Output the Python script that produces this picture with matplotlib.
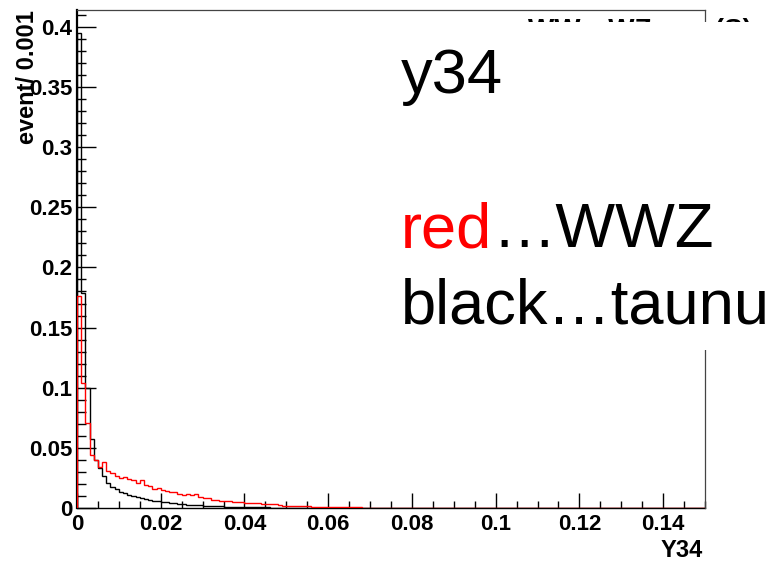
import matplotlib
matplotlib.use("Agg")
import matplotlib.pyplot as plt
import numpy as np
from matplotlib.patches import Rectangle
from matplotlib.ticker import MultipleLocator, FuncFormatter

# ---------------- data ----------------
bin_width = 0.001
x_min, x_max = 0.0, 0.15

# black ... taunu (per 0.001 bin)
taunu = [0.395, 0.179, 0.100, 0.057, 0.040, 0.033, 0.0266, 0.021, 0.0178, 0.0158,
         0.0136, 0.0122, 0.0110, 0.0100, 0.0090, 0.0080, 0.0072, 0.0066, 0.0060, 0.0055,
         0.0050, 0.0046, 0.0042, 0.0038, 0.0035, 0.0032, 0.0029, 0.0026, 0.0024, 0.0022,
         0.0020, 0.0018, 0.0017, 0.0015, 0.0014, 0.0012, 0.0011, 0.0010, 0.0009, 0.0009,
         0.0008, 0.0007, 0.0006, 0.0006, 0.0005, 0.0005, 0.0004, 0.0004, 0.0003, 0.0003,
         0.0003, 0.0002, 0.0002, 0.0002, 0.0002, 0.0001, 0.0001, 0.0001, 0.0001, 0.0001,
         0.0001, 0.0001, 0.0, 0.0001, 0.0, 0.0, 0.0001, 0.0, 0.0, 0.0]
# red ... WWZ
wwz = [0.176, 0.104, 0.071, 0.044, 0.040, 0.034, 0.038, 0.031, 0.029, 0.027,
       0.025, 0.026, 0.024, 0.023, 0.021, 0.023, 0.019, 0.018, 0.016, 0.017,
       0.015, 0.014, 0.013, 0.013, 0.012, 0.011, 0.012, 0.011, 0.012, 0.009,
       0.0085, 0.008, 0.0065, 0.0065, 0.006, 0.0062, 0.0055, 0.0052, 0.005, 0.0048,
       0.0045, 0.0042, 0.004, 0.0038, 0.0035, 0.0034, 0.0032, 0.003, 0.0025, 0.002,
       0.0018, 0.0017, 0.0016, 0.0015, 0.0014, 0.0013, 0.0012, 0.0011, 0.001, 0.0009,
       0.0009, 0.0008, 0.0007, 0.0007, 0.0006, 0.0006, 0.0005, 0.0005, 0.0004, 0.0004,
       0.0004, 0.0003, 0.0003, 0.0003, 0.0003, 0.0002, 0.0002, 0.0002, 0.0002, 0.0002,
       0.0001, 0.0001, 0.0001, 0.0001, 0.0001, 0.0001, 0.0, 0.0001, 0.0, 0.0]

n_bins = 150
taunu_full = np.zeros(n_bins)
taunu_full[:len(taunu)] = taunu
wwz_full = np.zeros(n_bins)
wwz_full[:len(wwz)] = wwz
edges = np.linspace(x_min, x_max, n_bins + 1)

title_text = "WW\u2192WZ\u2192\u03c4\u03bd (S)"
x_title = "Y34"
y_title = "event/ 0.001"
pave_lines = ["y34", "red", "\u2026WWZ", "black\u2026taunu"]

# ---------------- figure ----------------
W, H = 779, 562
fig = plt.figure(figsize=(W / 100, H / 100), dpi=100)
fig.patch.set_facecolor("white")

def px(x, y):
    return x / W, 1 - y / H

left, right, top, bottom = 77, 705, 10, 508
ax = fig.add_axes([left / W, 1 - bottom / H, (right - left) / W, (bottom - top) / H])
ax.set_xlim(x_min, x_max)
ax.set_ylim(0, 0.414)

ax.stairs(taunu_full, edges, color="black", linewidth=1.0, zorder=3)
ax.stairs(wwz_full, edges, color="#ff0000", linewidth=1.0, zorder=4)

for s in ["top", "right"]:
    ax.spines[s].set_linewidth(0.9)
    ax.spines[s].set_color("#444444")
ax.spines["left"].set_linewidth(1.6)
ax.spines["bottom"].set_linewidth(1.0)
ax.spines["bottom"].set_zorder(2)
ax.spines["left"].set_zorder(2)

ax.xaxis.set_major_locator(MultipleLocator(0.02))
ax.xaxis.set_minor_locator(MultipleLocator(0.005))
ax.yaxis.set_major_locator(MultipleLocator(0.05))
ax.yaxis.set_minor_locator(MultipleLocator(0.01))

def fmt(v, pos):
    s = "%.2f" % v
    s = s.rstrip("0").rstrip(".")
    return s if s else "0"

ax.xaxis.set_major_formatter(FuncFormatter(fmt))
ax.yaxis.set_major_formatter(FuncFormatter(fmt))

ax.tick_params(axis="y", which="major", direction="in", length=13.5, width=1.0, pad=3.5,
               right=False)
ax.tick_params(axis="y", which="minor", direction="in", length=6.8, width=1.0, right=False)
ax.tick_params(axis="x", which="major", direction="in", length=10.8, width=1.0, pad=4,
               top=False)
ax.tick_params(axis="x", which="minor", direction="in", length=5.4, width=1.0, top=False)

for lab in ax.get_xticklabels() + ax.get_yticklabels():
    lab.set_fontfamily("Liberation Sans")
    lab.set_fontweight("bold")
    lab.set_fontsize(16)

# axis titles
fig.text(*px(703, 557), x_title, ha="right", va="baseline", fontsize=17,
         fontweight="bold", family="Liberation Sans")
fig.text(*px(28, 10), y_title, ha="center", va="top", rotation=90, fontsize=17,
         fontweight="bold", family="Liberation Sans")

# title (mostly hidden behind the text box)
fig.text(*px(640, 18), title_text, ha="center", va="top", fontsize=20,
         fontweight="bold", family="Liberation Sans", zorder=5)

# white text box
box = Rectangle(px(385, 350), (W - 385) / W, (350 - 22) / H, transform=fig.transFigure,
                facecolor="white", edgecolor="none", zorder=10)
fig.add_artist(box)

fs = 45.5
fig.text(*px(401, 93), pave_lines[0], ha="left", va="baseline", fontsize=fs,
         family="Liberation Sans", zorder=11)
t_red = fig.text(*px(401, 247), pave_lines[1], ha="left", va="baseline", fontsize=fs,
                 family="Liberation Sans", color="#ff0000", zorder=11)
fig.canvas.draw()
bb = t_red.get_window_extent(renderer=fig.canvas.get_renderer())
fig.text(bb.x1 / W, 1 - 247 / H, pave_lines[2], ha="left", va="baseline", fontsize=fs,
         family="Liberation Sans", color="black", zorder=11)
fig.text(*px(401, 324), pave_lines[3], ha="left", va="baseline", fontsize=fs,
         family="Liberation Sans", zorder=11)

fig.savefig("out.png", dpi=100, facecolor="white")
